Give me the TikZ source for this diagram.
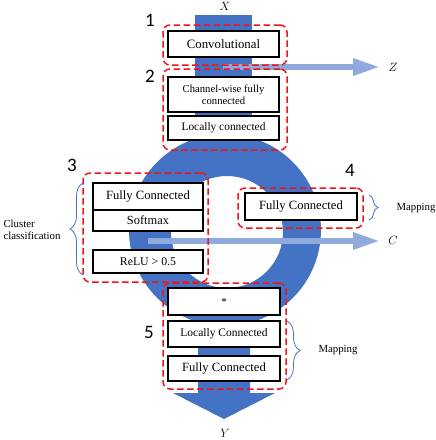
\documentclass[tikz,border=0pt]{standalone}
\usepackage{fontspec}
\setmainfont{Liberation Serif}
\newfontfamily\numfont{Carlito}
\usetikzlibrary{arrows.meta,decorations.pathreplacing}
\definecolor{streamblue}{RGB}{68,114,196}
\definecolor{sideblue}{RGB}{143,170,220}
\definecolor{groupred}{RGB}{240,20,25}
\tikzset{
  layer/.style={draw,line width=1.8pt,fill=white,inner sep=0pt,minimum width=111pt},
  group/.style={draw=groupred,line width=1.5pt,dash pattern=on 6.5pt off 3.5pt,rounded corners=7pt,inner sep=0pt},
  sideflow/.style={draw=sideblue,line width=6pt,-{Triangle[length=27pt,width=16pt]}},
  brace/.style={draw=streamblue,line width=0.8pt,decorate,decoration={brace,amplitude=#1}},
  brace/.default=12pt,
  num/.style={font=\numfont\fontsize{19}{19}\selectfont},
  note/.style={font=\fontsize{10.8}{12}\selectfont,align=left},
  sym/.style={font=\fontsize{12}{12}\selectfont}
}
\begin{document}
\begin{tikzpicture}[x=1pt,y=-1pt]
  \useasboundingbox (0,0) rectangle (436,440);

  \fill[streamblue] (195,15) rectangle (252,160);
  \fill[streamblue,even odd rule] (225,230) circle (96) (227,232) circle (56);
  \fill[streamblue] (198,300) -- (250,300) -- (250,393) -- (275,393) -- (224,419)
    -- (173,393) -- (198,393) -- cycle;

  \node[sym] (X) at (225,6) {$X$};
  \node[sym] (Y) at (225,433) {$Y$};
  \node[sym] (Z) at (393,67) {$Z$};
  \node[sym] (C) at (393,240) {$C$};
  \coordinate (zsrc) at (223,67); \coordinate (zend) at (380,67);
  \coordinate (csrc) at (148,241); \coordinate (cend) at (380,241);
  \draw[sideflow] (zsrc) -- (zend);
  \draw[sideflow] (csrc) -- (cend);

  \node[layer,minimum height=26pt,font=\fontsize{12.8}{14}\selectfont] (conv) at (223.5,44) {Convolutional};
  \node[layer,minimum height=35pt,align=center,font=\fontsize{10.7}{12}\selectfont] (chan) at (223.5,94.5) {Channel-wise fully\\connected};
  \node[layer,minimum height=24pt,font=\fontsize{11.4}{13}\selectfont] (locc) at (223.5,128) {Locally connected};

  \node[layer,minimum width=110pt,minimum height=27pt,font=\fontsize{12.6}{14}\selectfont] (fc3) at (148,196.5) {Fully Connected};
  \node[layer,minimum width=110pt,minimum height=21pt,font=\fontsize{12.4}{14}\selectfont] (soft) at (148,220.5) {Softmax};
  \node[layer,minimum width=110pt,minimum height=23pt,font=\fontsize{11.8}{14}\selectfont] (relu) at (148,261.5) {ReLU > 0.5};

  \node[layer,minimum width=112pt,minimum height=27pt,font=\fontsize{12.6}{14}\selectfont] (fc4) at (301,206.5) {Fully Connected};

  \node[layer,minimum width=112pt,minimum height=27pt,font=\fontsize{11}{12}\selectfont] (star) at (224,301.5) {*};
  \node[layer,minimum width=112pt,minimum height=26pt,font=\fontsize{11.5}{13}\selectfont] (lc5) at (224,334) {Locally Connected};
  \node[layer,minimum width=112pt,minimum height=25pt,font=\fontsize{12.6}{14}\selectfont] (fc5) at (224,368.5) {Fully Connected};

  \node[group,minimum width=124pt,minimum height=40pt] (g1) at (225,45) {};
  \node[group,minimum width=124pt,minimum height=81pt] (g2) at (225,109.5) {};
  \node[group,minimum width=125pt,minimum height=109pt] (g3) at (145.5,227.5) {};
  \node[group,minimum width=125pt,minimum height=40pt] (g4) at (300.5,208) {};
  \node[group,minimum width=123pt,minimum height=106pt] (g5) at (224.5,336) {};

  \node[num] (n1) at (150,20) {1};
  \node[num] (n2) at (150,76) {2};
  \node[num] (n3) at (72,165) {3};
  \node[num] (n4) at (350,170) {4};
  \node[num] (n5) at (149,332) {5};

  \draw[brace=13pt] (83,275) -- (83,183);
  \draw[brace=9pt] (369,195) -- (369,220);
  \draw[brace=13pt] (287,321) -- (287,380);
  \node[note,anchor=west] (clus) at (0,230) {Cluster\\classification};
  \node[note,anchor=west] (map4) at (393,208) {Mapping};
  \node[note,anchor=west] (map5) at (315,350) {Mapping};

\end{tikzpicture}
\end{document}
